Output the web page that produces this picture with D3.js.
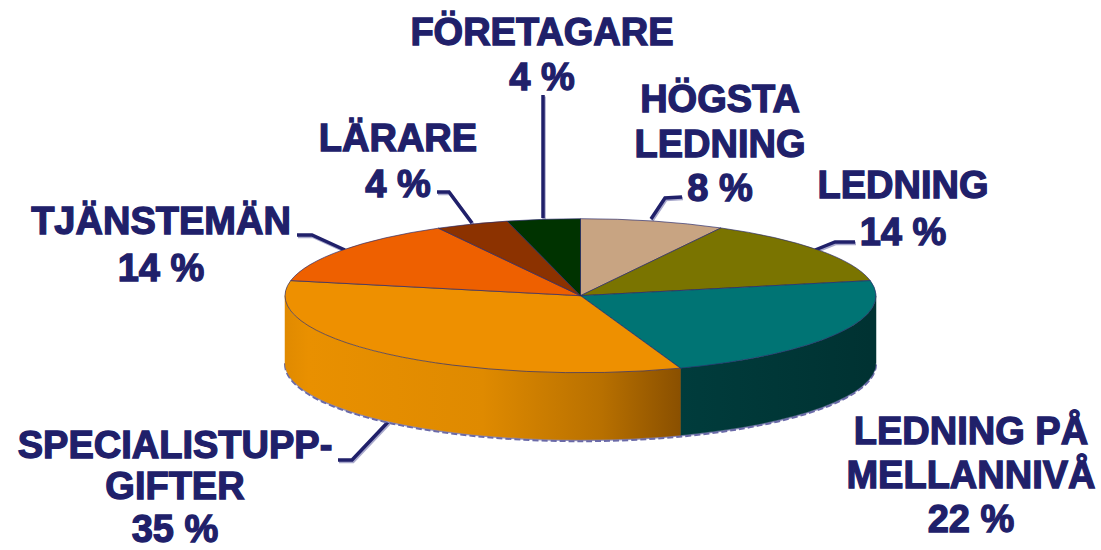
<!DOCTYPE html>
<html><head><meta charset="utf-8">
<script src="https://cdn.jsdelivr.net/npm/d3@7"></script>
<style>html,body{margin:0;background:#fff}svg{display:block}text{font-family:"Liberation Sans",Arial,sans-serif;font-weight:700;fill:#20206a;font-size:38px;text-anchor:middle;stroke:#20206a;stroke-width:1.3px}</style>
</head><body><svg id="c" width="1101" height="550"></svg>
<script>
const categories=["HÖGSTA LEDNING","LEDNING","LEDNING PÅ MELLANNIVÅ","SPECIALISTUPPGIFTER","TJÄNSTEMÄN","LÄRARE","FÖRETAGARE"];
const sliceShares=[7.9,14,22.7,33.7,13.9,4,4];
const topColors=["#c8a482","#7a7400","#007474","#ee9000","#ee6000","#8c3200","#003300"];
const sideColorsA=["#c8a482","#7a7400","#003c3c","#e99000","#ee6000","#8c3200","#003300"];
const sideColorsB=["#c8a482","#7a7400","#003232","#8a5000","#ee6000","#8c3200","#003300"];
const labelLines=[["HÖGSTA","LEDNING","8 %"],["LEDNING","14 %"],["LEDNING PÅ","MELLANNIVÅ","22 %"],["SPECIALISTUPP-","GIFTER","35 %"],["TJÄNSTEMÄN","14 %"],["LÄRARE","4 %"],["FÖRETAGARE","4 %"]];
const labelBaselines=[[112,157,201],[198,245],[444,488,532],[458,499,541.5],[234,281],[151,197],[45,90]];
const labelCenters=[720,903,971,175,161,398,542];
const leaderPaths=[[[682,197],[665,198],[651,219]],[[855,242],[835,242],[815,250]],null,[[338,460],[352,460],[388,422]],[[297,235],[312,235],[345,250]],[[437,192],[449,192],[472,223]],[[543,95],[543,218]]];
const depth=67;

const svg=d3.select("#c");
const x=d3.scaleLinear().domain([-1,1]).range([285,876]);
const y=d3.scaleLinear().domain([-1,1]).range([218.7,372.7]);
const arcs=d3.pie().sort(null).value(d=>d)(sliceShares);
const px=a=>x(Math.sin(a)), py=a=>y(-Math.cos(a));
const rx=(x(1)-x(-1))/2, ry=(y(1)-y(-1))/2;
const cx=x(0), cy=y(0);

const defs=svg.append("defs");
arcs.forEach((d,i)=>{
  const g=defs.append("linearGradient").attr("id","side"+i).attr("gradientUnits","userSpaceOnUse")
   .attr("x1",Math.min(px(d.startAngle),px(d.endAngle),i==3?x(-1):1e4)).attr("x2",Math.max(px(d.startAngle),px(d.endAngle))).attr("y1",0).attr("y2",0);
  g.append("stop").attr("offset",0).attr("stop-color",i==3?"#e08a00":sideColorsA[i]);
  if(i==3){g.append("stop").attr("offset",.06).attr("stop-color",sideColorsA[i]);
           g.append("stop").attr("offset",.5).attr("stop-color","#df8a00");
           g.append("stop").attr("offset",.8).attr("stop-color","#b87000");}
  g.append("stop").attr("offset",1).attr("stop-color",sideColorsB[i]);
});

leaderPaths.forEach(p=>{ if(!p) return;
  const line=d3.line()(p);
  svg.append("path").attr("d",line).attr("transform","translate(1,1.5)").attr("fill","none").attr("stroke","#a9a9cc").attr("stroke-width",3.5);
  svg.append("path").attr("d",line).attr("fill","none").attr("stroke","#20206a").attr("stroke-width",3.5);
});

svg.append("path").attr("d",`M${x(-1)},${cy+depth} A${rx},${ry} 0 0 0 ${x(1)},${cy+depth} Z`)
  .attr("fill","#8f8fc0").attr("stroke","#6a6aa8").attr("stroke-width",2).attr("stroke-dasharray","6 3").attr("transform","translate(0,1.5)");

const lo=Math.PI/2, hi=3*Math.PI/2;
arcs.forEach((d,i)=>{
  const a0=Math.max(d.startAngle,lo), a1=Math.min(d.endAngle,hi);
  if(a1<=a0) return;
  const sx=px(a0),sy=py(a0),ex=px(a1),ey=py(a1);
  svg.append("path").attr("d",`M${sx},${sy} A${rx},${ry} 0 0 1 ${ex},${ey} L${ex},${ey+depth} A${rx},${ry} 0 0 0 ${sx},${sy+depth} Z`)
   .attr("fill",`url(#side${i})`).attr("stroke",`url(#side${i})`).attr("stroke-width",.5);
});

arcs.forEach((d,i)=>{
  const large=d.endAngle-d.startAngle>Math.PI?1:0;
  svg.append("path").attr("d",`M${cx},${cy} L${px(d.startAngle)},${py(d.startAngle)} A${rx},${ry} 0 ${large} 1 ${px(d.endAngle)},${py(d.endAngle)} Z`)
   .attr("fill",topColors[i]).attr("stroke","#2a2a6a").attr("stroke-width",.9).attr("stroke-opacity",.75).attr("stroke-linejoin","round");
});

labelLines.forEach((ls,i)=>{
  ls.forEach((s,j)=>svg.append("text").attr("x",labelCenters[i]).attr("y",labelBaselines[i][j]).text(s));
});
</script></body></html>
